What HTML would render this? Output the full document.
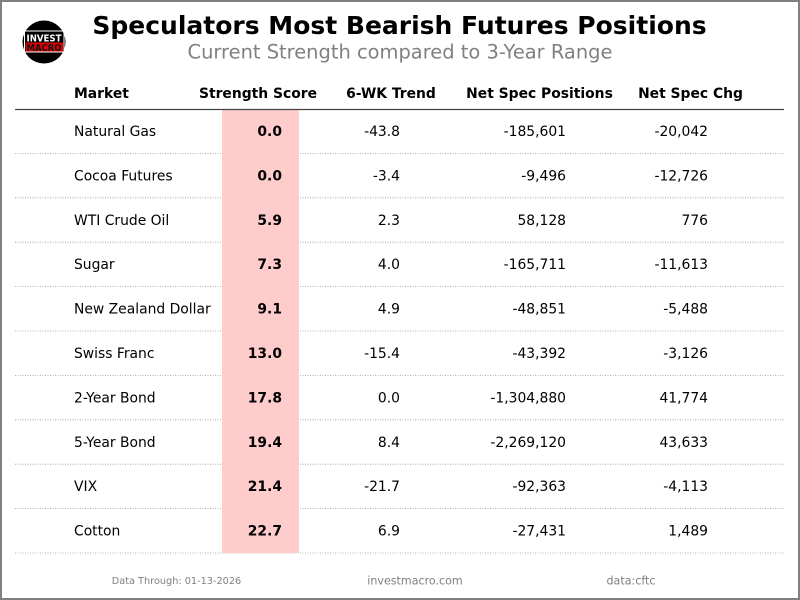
<!DOCTYPE html>
<html>
<head>
<meta charset="utf-8">
<style>
html,body{margin:0;padding:0;background:#fff;}
svg{display:block;}
text{font-family:"DejaVu Sans","Liberation Sans",sans-serif;}
</style>
</head>
<body>
<svg width="800" height="600" viewBox="0 0 800 600" xmlns="http://www.w3.org/2000/svg">
<rect x="0" y="0" width="800" height="600" fill="#fff"/>
<rect x="1" y="1" width="798" height="598" fill="none" stroke="#808080" stroke-width="2"/>

<!-- logo -->
<circle cx="44" cy="42" r="21.5" fill="#000"/>
<rect x="24.5" y="31" width="39.5" height="21" fill="none" stroke="#fff" stroke-width="1"/>
<rect x="25.5" y="42.5" width="37.5" height="9" fill="#e00000"/>
<text x="44" y="41.3" font-size="9.6" font-weight="bold" fill="#fff" text-anchor="middle" textLength="35" lengthAdjust="spacingAndGlyphs">INVEST</text>
<text x="44" y="51" font-size="9.6" font-weight="bold" fill="#111" text-anchor="middle" textLength="35" lengthAdjust="spacingAndGlyphs">MACRO</text>

<!-- title -->
<text x="399.5" y="34" font-size="25" font-weight="bold" fill="#000" text-anchor="middle">Speculators Most Bearish Futures Positions</text>
<text x="400" y="58.5" font-size="19.44" fill="#808080" text-anchor="middle">Current Strength compared to 3-Year Range</text>

<!-- headers -->
<g font-size="13.89" font-weight="bold" fill="#000">
<text x="74" y="98">Market</text>
<text x="258" y="98" text-anchor="middle">Strength Score</text>
<text x="391" y="98" text-anchor="middle">6-WK Trend</text>
<text x="539.5" y="98" text-anchor="middle">Net Spec Positions</text>
<text x="690.5" y="98" text-anchor="middle">Net Spec Chg</text>
</g>

<!-- dotted row lines -->
<g stroke="#9a9a9a" stroke-width="0.8" stroke-dasharray="1,1.5">
<line x1="15" x2="784" y1="153.4" y2="153.4"/>
<line x1="15" x2="784" y1="197.8" y2="197.8"/>
<line x1="15" x2="784" y1="242.2" y2="242.2"/>
<line x1="15" x2="784" y1="286.6" y2="286.6"/>
<line x1="15" x2="784" y1="331" y2="331"/>
<line x1="15" x2="784" y1="375.4" y2="375.4"/>
<line x1="15" x2="784" y1="419.8" y2="419.8"/>
<line x1="15" x2="784" y1="464.2" y2="464.2"/>
<line x1="15" x2="784" y1="508.6" y2="508.6"/>
<line x1="15" x2="784" y1="553" y2="553"/>
</g>

<!-- pink column -->
<rect x="222" y="109.5" width="77" height="443.5" fill="#ffcccc"/>

<line x1="15" x2="784" y1="109.5" y2="109.5" stroke="#444" stroke-width="1.2"/>

<!-- rows -->
<g font-size="13.89" fill="#000">
<text x="74" y="136">Natural Gas</text>
<text x="74" y="180.4">Cocoa Futures</text>
<text x="74" y="224.8">WTI Crude Oil</text>
<text x="74" y="269.2">Sugar</text>
<text x="74" y="313.6">New Zealand Dollar</text>
<text x="74" y="358">Swiss Franc</text>
<text x="74" y="402.4">2-Year Bond</text>
<text x="74" y="446.8">5-Year Bond</text>
<text x="74" y="491.2">VIX</text>
<text x="74" y="535.6">Cotton</text>
</g>
<g font-size="13.89" font-weight="bold" fill="#000" text-anchor="end">
<text x="282" y="136">0.0</text>
<text x="282" y="180.4">0.0</text>
<text x="282" y="224.8">5.9</text>
<text x="282" y="269.2">7.3</text>
<text x="282" y="313.6">9.1</text>
<text x="282" y="358">13.0</text>
<text x="282" y="402.4">17.8</text>
<text x="282" y="446.8">19.4</text>
<text x="282" y="491.2">21.4</text>
<text x="282" y="535.6">22.7</text>
</g>
<g font-size="13.89" fill="#000" text-anchor="end">
<text x="400" y="136">-43.8</text>
<text x="400" y="180.4">-3.4</text>
<text x="400" y="224.8">2.3</text>
<text x="400" y="269.2">4.0</text>
<text x="400" y="313.6">4.9</text>
<text x="400" y="358">-15.4</text>
<text x="400" y="402.4">0.0</text>
<text x="400" y="446.8">8.4</text>
<text x="400" y="491.2">-21.7</text>
<text x="400" y="535.6">6.9</text>

<text x="566" y="136">-185,601</text>
<text x="566" y="180.4">-9,496</text>
<text x="566" y="224.8">58,128</text>
<text x="566" y="269.2">-165,711</text>
<text x="566" y="313.6">-48,851</text>
<text x="566" y="358">-43,392</text>
<text x="566" y="402.4">-1,304,880</text>
<text x="566" y="446.8">-2,269,120</text>
<text x="566" y="491.2">-92,363</text>
<text x="566" y="535.6">-27,431</text>

<text x="708" y="136">-20,042</text>
<text x="708" y="180.4">-12,726</text>
<text x="708" y="224.8">776</text>
<text x="708" y="269.2">-11,613</text>
<text x="708" y="313.6">-5,488</text>
<text x="708" y="358">-3,126</text>
<text x="708" y="402.4">41,774</text>
<text x="708" y="446.8">43,633</text>
<text x="708" y="491.2">-4,113</text>
<text x="708" y="535.6">1,489</text>
</g>

<!-- footer -->
<g fill="#808080" text-anchor="middle">
<text x="176.5" y="584" font-size="9.72">Data Through: 01-13-2026</text>
<text x="415" y="584.5" font-size="11.1">investmacro.com</text>
<text x="631" y="584.5" font-size="11.1">data:cftc</text>
</g>
</svg>
</body>
</html>
